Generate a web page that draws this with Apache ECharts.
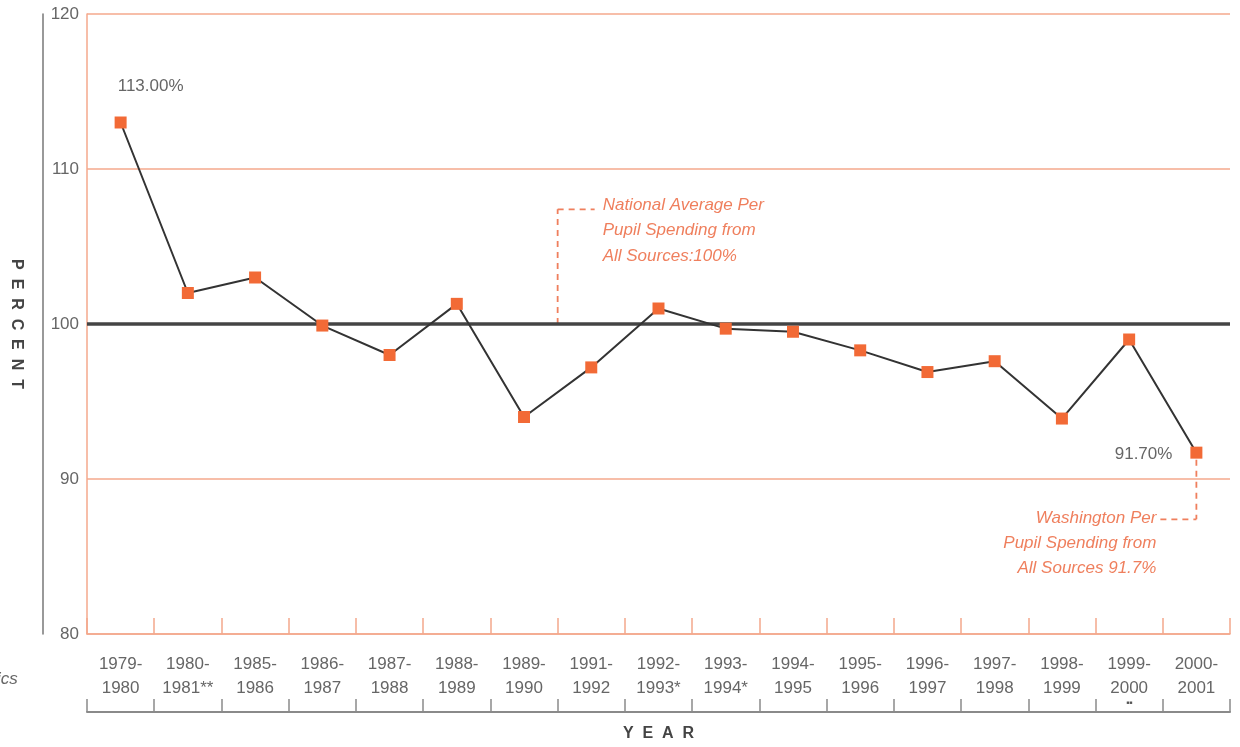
<!DOCTYPE html>
<html>
<head>
<meta charset="utf-8">
<script src="https://cdn.jsdelivr.net/npm/echarts@6/dist/echarts.min.js"></script>
<style>
html,body{margin:0;padding:0;background:#fff;}
#main{width:1240px;height:747px;}
</style>
</head>
<body>
<div id="main"></div>
<script>
// ---- data ----
const categories = ['1979-\n1980','1980-\n1981**','1985-\n1986','1986-\n1987','1987-\n1988','1988-\n1989','1989-\n1990','1991-\n1992','1992-\n1993*','1993-\n1994*','1994-\n1995','1995-\n1996','1996-\n1997','1997-\n1998','1998-\n1999','1999-\n2000','2000-\n2001'];
const values = [113.0,102.0,103.0,99.9,98.0,101.3,94.0,97.2,101.0,99.7,99.5,98.3,96.9,97.6,93.9,99.0,91.7];
const yTicks = [80,90,100,110,120];
const nationalAverage = 100;
const nationalNote = ['National Average Per','Pupil Spending from','All Sources:100%'];
const washingtonNote = ['Washington Per','Pupil Spending from','All Sources 91.7%'];

const FONT = '"Liberation Sans", Arial, sans-serif';
const GRAY = '#666';
const ORANGE_LINE = '#f4a88c';
const ORANGE_TEXT = '#ef7f5d';
const MARK = '#f26a36';

const chart = echarts.init(document.getElementById('main'));
const last = values.length - 1;

const option = {
  animation: false,
  backgroundColor: '#fff',
  grid: {left: 83, right: 10, top: 14, bottom: 109},
  xAxis: [{
    type: 'category',
    data: categories,
    boundaryGap: true,
    position: 'bottom',
    axisLine: {show: true, lineStyle: {color: ORANGE_LINE, width: 1.5}},
    axisTick: {show: true, inside: true, length: 16, lineStyle: {color: ORANGE_LINE, width: 1.5}},
    axisLabel: {
      color: GRAY, fontFamily: FONT, fontSize: 17, lineHeight: 24, margin: 18,
      formatter: function (v) { return v === '1999-\n2000' ? v + '\n{s|■■}' : v; },
      rich: {s: {fontSize: 5, lineHeight: 6, color: '#555'}}
    },
    splitLine: {show: false}
  }, {
    type: 'category',
    data: categories,
    boundaryGap: true,
    position: 'bottom',
    offset: 78,
    axisLine: {show: true, lineStyle: {color: '#8a8a8a', width: 2}},
    axisTick: {show: true, inside: true, length: 13, lineStyle: {color: '#8a8a8a', width: 1.5}},
    axisLabel: {show: false},
    name: 'Y  E  A  R',
    nameLocation: 'middle',
    nameGap: 14,
    nameTextStyle: {color: '#444', fontFamily: FONT, fontSize: 16, fontWeight: 'bold'}
  }],
  yAxis: [{
    type: 'value',
    min: yTicks[0], max: yTicks[yTicks.length - 1], interval: 10,
    axisLine: {show: true, lineStyle: {color: ORANGE_LINE, width: 1.5}},
    axisTick: {show: false},
    axisLabel: {color: GRAY, fontFamily: FONT, fontSize: 17, margin: 8},
    splitLine: {show: true, lineStyle: {color: ORANGE_LINE, width: 1.5}}
  }, {
    type: 'value',
    min: yTicks[0], max: yTicks[yTicks.length - 1], interval: 10,
    position: 'left',
    offset: 44,
    axisLine: {show: true, lineStyle: {color: '#777', width: 1.5}},
    axisTick: {show: false},
    axisLabel: {show: false},
    splitLine: {show: false},
    name: 'P  E  R  C  E  N  T',
    nameLocation: 'middle',
    nameRotate: -90,
    nameGap: 19,
    nameTextStyle: {color: '#444', fontFamily: FONT, fontSize: 16, fontWeight: 'bold'}
  }],
  series: [{
    type: 'line',
    data: values.map(function (v, i) {
      const d = {value: v};
      if (i === 0) {
        d.label = {show: true, position: 'top', offset: [30, -17], formatter: v.toFixed(2) + '%'};
      } else if (i === last) {
        d.label = {show: true, position: 'left', distance: 18, offset: [0, 2], formatter: v.toFixed(2) + '%'};
      }
      return d;
    }),
    symbol: 'rect',
    symbolSize: 12,
    showAllSymbol: true,
    itemStyle: {color: MARK},
    lineStyle: {color: '#333', width: 2},
    label: {color: GRAY, fontFamily: FONT, fontSize: 17},
    z: 5,
    markLine: {
      silent: true,
      symbol: ['none', 'none'],
      label: {show: false},
      lineStyle: {color: '#444', width: 3.5, type: 'solid'},
      data: [{yAxis: nationalAverage}],
      z: 3
    }
  }]
};
chart.setOption(option);

function px(x, y) { return chart.convertToPixel({xAxisIndex: 0, yAxisIndex: 0}, [x, y]); }

// national average annotation anchored between 1989-90 and 1991-92
const a6 = px(6, nationalAverage), a7 = px(7, nationalAverage);
const nx = (a6[0] + a7[0]) / 2;
const nTop = px(6, 107.4)[1];
const dash = {stroke: ORANGE_TEXT, lineWidth: 1.8, lineDash: [6, 5]};
// washington annotation anchored at last point
const w = px(last, values[last]);
const wBottom = px(last, 87.4)[1];

const graphics = [
  {type: 'line', shape: {x1: nx, y1: a6[1], x2: nx, y2: nTop}, style: dash, silent: true},
  {type: 'line', shape: {x1: nx, y1: nTop, x2: nx + 37, y2: nTop}, style: dash, silent: true},
  {type: 'text', x: nx + 45, y: nTop - 17, style: {text: nationalNote.join('\n'), fill: ORANGE_TEXT, font: 'italic 17px ' + FONT, lineHeight: 25.5, align: 'left', verticalAlign: 'top'}, silent: true},
  {type: 'line', shape: {x1: w[0], y1: w[1] + 7, x2: w[0], y2: wBottom}, style: dash, silent: true},
  {type: 'line', shape: {x1: w[0] - 36, y1: wBottom, x2: w[0], y2: wBottom}, style: dash, silent: true},
  {type: 'text', x: w[0] - 40, y: wBottom - 14, style: {text: washingtonNote.join('\n'), fill: ORANGE_TEXT, font: 'italic 17px ' + FONT, lineHeight: 25, align: 'right', verticalAlign: 'top'}, silent: true},
  {type: 'text', x: -3, y: 671, style: {text: 'ics', fill: GRAY, font: 'italic 17px ' + FONT}, silent: true}
];
chart.setOption({graphic: graphics});
</script>
</body>
</html>
